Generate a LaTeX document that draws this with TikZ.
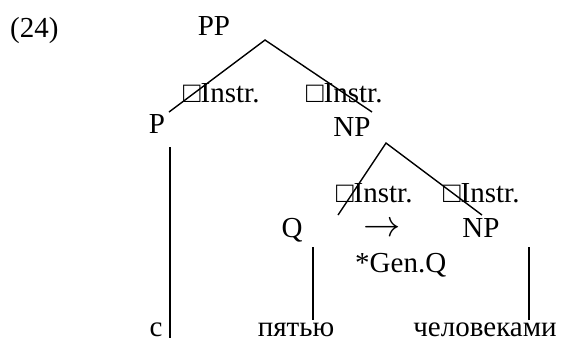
\documentclass[tikz,border=0pt]{standalone}
\usepackage{fontspec}
\setmainfont{Liberation Serif}
\begin{document}
\begin{tikzpicture}[x=1pt,y=-1pt,
  lbl/.style={inner sep=0pt, font=\fontsize{29}{34}\selectfont},
  branch/.style={line width=1.4pt}]
\useasboundingbox (0,0) rectangle (562,341);

% example number and labels
\node[lbl,anchor=base west] (ex) at (10,37) {(24)};
\node[lbl,anchor=base] (pp) at (214,35) {PP};
\node[lbl,anchor=base west] (c1) at (183,102) {□Instr.};
\node[lbl,anchor=base west] (c2) at (306,102) {□Instr.};
\node[lbl,anchor=base] (p) at (157,133) {P};
\node[lbl,anchor=base] (np1) at (352,136) {NP};
\node[lbl,anchor=base west] (c3) at (336,202) {□Instr.};
\node[lbl,anchor=base west] (c4) at (443,202) {□Instr.};
\node[lbl,anchor=base] (q) at (292,237) {Q};
\node[lbl,anchor=base] (arr) at (382,236) {\scalebox{1.5}{$\rightarrow$}};
\node[lbl,anchor=base] (np2) at (481,237) {NP};
\node[lbl,anchor=base west] (gen) at (355,272) {*Gen.Q};
\node[lbl,anchor=base] (w1) at (156,336) {с};
\node[lbl,anchor=base] (w2) at (296,336) {пятью};
\node[lbl,anchor=base] (w3) at (485,336) {человеками};

% branching points and branch ends
\coordinate (top1) at (265,40);
\coordinate (endp) at (169,112);
\coordinate (endnp1) at (372,112);
\coordinate (top2) at (386,143);
\coordinate (endq) at (338,215);
\coordinate (endnp2) at (482,215);
\coordinate (pv1) at (170,147);
\coordinate (pv2) at (170,338);
\coordinate (qv1) at (313,247);
\coordinate (qv2) at (313,320);
\coordinate (nv1) at (529,247);
\coordinate (nv2) at (529,320);

% tree branches
\draw[branch] (endp) -- (top1) -- (endnp1);
\draw[branch] (endq) -- (top2) -- (endnp2);
\draw[branch] (pv1) -- (pv2);
\draw[branch] (qv1) -- (qv2);
\draw[branch] (nv1) -- (nv2);
\end{tikzpicture}
\end{document}
